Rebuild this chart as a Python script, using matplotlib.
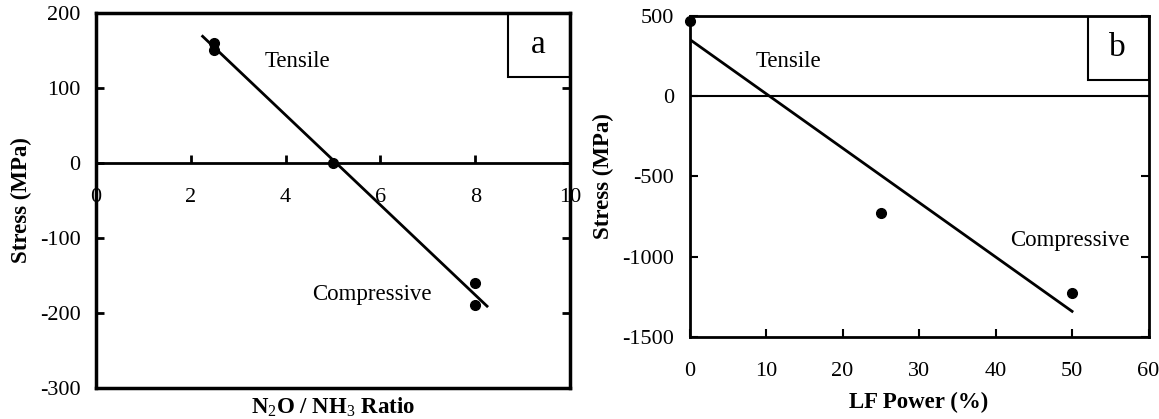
import numpy as np
import matplotlib.pyplot as plt
from matplotlib.patches import Rectangle

plt.rcParams['font.family'] = 'Liberation Serif'
plt.rcParams['mathtext.fontset'] = 'custom'
plt.rcParams['mathtext.rm'] = 'Liberation Serif'
plt.rcParams['mathtext.bf'] = 'Liberation Serif:bold'
plt.rcParams['axes.unicode_minus'] = False

# panel a : stress vs N2O/NH3 ratio
ratio = [2.5, 2.5, 5, 8, 8]
stress_a = [160, 150, 0, -160, -190]
fit_a_x = [2.25, 8.25]

# panel b : stress vs LF power
lf_power = [0, 25, 50]
stress_b = [470, -725, -1225]
fit_b_x = [0, 50]

fig = plt.figure(figsize=(11.59, 4.19), dpi=100)
axa = fig.add_axes([0.0828, 0.074, 0.409, 0.895])
axb = fig.add_axes([0.595, 0.196, 0.396, 0.766])

# ---- panel a
k, b = np.polyfit(ratio, stress_a, 1)
xx = np.array(fit_a_x)
axa.plot(xx, k * xx + b, color='k', lw=2)
axa.plot(ratio, stress_a, 'ko', ms=7)
axa.set_xlim(0, 10)
axa.set_ylim(-300, 200)
axa.set_yticks([-300, -200, -100, 0, 100, 200])
axa.set_xticks([0, 2, 4, 6, 8, 10])
axa.tick_params(axis='y', direction='in', left=True, right=True, length=6,
                width=2, labelsize=16, pad=11)
axa.tick_params(axis='x', direction='in', length=6, width=2, labelsize=16, pad=18)
for s in axa.spines.values():
    s.set_linewidth(2.5)
# x axis sits on the zero line, box bottom drawn separately
axa.spines['bottom'].set_position(('data', 0))
axa.spines['bottom'].set_linewidth(2)
axa.plot([0, 1], [0, 0], transform=axa.transAxes, color='k', lw=2.5,
         clip_on=False, solid_capstyle='projecting')
axa.set_xlabel('N$_2$O / NH$_3$ Ratio', fontsize=16.5, fontweight='bold')
axa.xaxis.set_label_coords(0.5, -0.052)
axa.xaxis.label.set_va('center')
axa.set_ylabel('Stress (MPa)', fontsize=16.5, fontweight='bold', labelpad=6)
axa.text(4.24, 135, 'Tensile', fontsize=16.5, ha='center', va='center')
axa.text(5.82, -175, 'Compressive', fontsize=16.5, ha='center', va='center')
axa.add_patch(Rectangle((0.869, 0.829), 0.131, 0.171, transform=axa.transAxes,
                        fill=False, lw=1.5, ec='k'))
axa.text(0.934, 0.914, 'a', transform=axa.transAxes, fontsize=24,
         ha='center', va='center')

# ---- panel b
k, b = np.polyfit(lf_power, stress_b, 1)
xx = np.array(fit_b_x)
axb.plot(xx, k * xx + b, color='k', lw=2)
axb.plot(lf_power, stress_b, 'ko', ms=7, clip_on=False)
axb.axhline(0, color='k', lw=1.5)
axb.set_xlim(0, 60)
axb.set_ylim(-1500, 500)
axb.set_yticks([-1500, -1000, -500, 0, 500])
axb.tick_params(axis='y', direction='in', left=True, right=True, length=6,
                width=1.5, labelsize=16, pad=11)
axb.tick_params(axis='x', direction='in', length=6, width=1.5, labelsize=16, pad=18)
for s in axb.spines.values():
    s.set_linewidth(2)
axb.set_xlabel('LF Power (%)', fontsize=16.5, fontweight='bold', labelpad=8)
axb.set_ylabel('Stress (MPa)', fontsize=16.5, fontweight='bold', labelpad=6)
axb.text(12.9, 218, 'Tensile', fontsize=16.5, ha='center', va='center')
axb.text(49.7, -897, 'Compressive', fontsize=16.5, ha='center', va='center')
axb.add_patch(Rectangle((0.867, 0.80), 0.133, 0.20, transform=axb.transAxes,
                        fill=False, lw=1.5, ec='k'))
axb.text(0.933, 0.90, 'b', transform=axb.transAxes, fontsize=24,
         ha='center', va='center')

fig.savefig('out.png', dpi=100)
